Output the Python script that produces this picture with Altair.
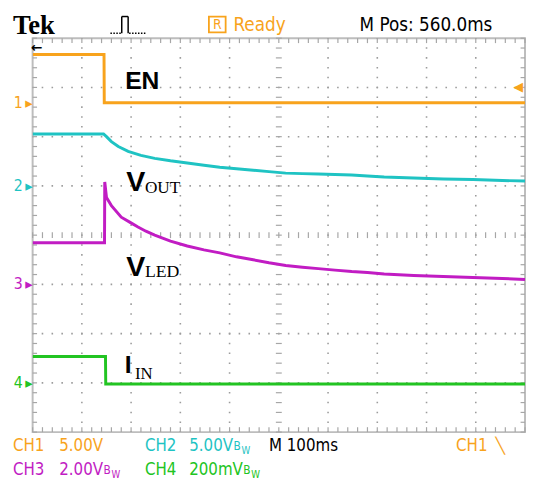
import altair as alt
import pandas as pd

# ---------------- waveform samples ----------------
# time in ms from the left edge of the graticule (100 ms/div, 10 div)
ch1_t = [0, 145, 145.5, 1000]
ch1_v = [4.9, 4.9, 0.0, 0.0]                      # volts, 5 V/div

ch2_t = [0, 144, 150, 160, 174, 194, 220, 248, 280, 314, 348, 380, 414, 448,
         480, 514, 548, 580, 614, 648, 680, 714, 774, 834, 894, 954, 1000]
ch2_v = [5.27, 5.27, 5.0, 4.5, 4.0, 3.5, 3.1, 2.8, 2.55, 2.33, 2.1, 1.9, 1.75,
         1.6, 1.45, 1.3, 1.25, 1.2, 1.15, 1.1, 1.0, 0.9, 0.8, 0.7, 0.65, 0.55, 0.5]

ch3_t = [0, 146, 146.5, 150, 160, 180, 198, 214, 230, 248, 280, 314, 348, 380,
         414, 448, 480, 514, 548, 580, 614, 648, 680, 714, 774, 834, 894, 954, 1000]
ch3_v = [1.69, 1.69, 4.16, 3.53, 3.2, 2.73, 2.52, 2.33, 2.16, 2.0, 1.76, 1.56,
         1.4, 1.28, 1.12, 1.0, 0.88, 0.77, 0.70, 0.64, 0.58, 0.52, 0.48, 0.42,
         0.36, 0.32, 0.28, 0.24, 0.20]

ch4_t = [0, 148, 148.5, 1000]
ch4_v = [107, 107, -5, -5]                        # mV, 200 mV/div

chan_names = ["CH1", "CH2", "CH3", "CH4"]
chan_colors = ["#F8A31C", "#1FC3C3", "#C11CC3", "#22C422"]
chan_per_div = [5.0, 5.0, 2.0, 200.0]
chan_ground = [2.69, 1.0, -1.0, -3.0]             # ground markers, div from centre

rows = []
for name, ts, vs, per, gnd in zip(chan_names, [ch1_t, ch2_t, ch3_t, ch4_t],
                                   [ch1_v, ch2_v, ch3_v, ch4_v],
                                   chan_per_div, chan_ground):
    for i, (t, v) in enumerate(zip(ts, vs)):
        rows.append({"ch": name, "i": i, "t": t, "div": v / per + gnd})
df = pd.DataFrame(rows)

# ---------------- graticule ----------------
major_t = [100, 200, 300, 400, 600, 700, 800, 900]
major_y = [-3, -2, -1, 1, 2, 3]
minor_t = [20 * k for k in range(51)]
minor_y = [round(-4 + 0.2 * k, 2) for k in range(41)]

vt = pd.DataFrame([{"t": t, "y1": a, "y2": b} for t in minor_t
                   for a, b in [(4, 3.9), (-4, -3.9), (-0.06, 0.06)]])
ht = pd.DataFrame([{"y": y, "t1": a, "t2": b} for y in minor_y
                   for a, b in [(0, 9), (991, 1000), (494, 506)]])

xs = alt.Scale(domain=[0, 1000], nice=False, zero=False)
ys = alt.Scale(domain=[-4, 4], nice=False, zero=False)

GRID = "#9C9C9C"
TICK = "#A6A6A6"
SANS = "Liberation Sans Narrow, DejaVu Sans Condensed, Arial Narrow, sans-serif"
BOLD = "Liberation Sans, Arial, sans-serif"
SERIF = "Liberation Serif, Times New Roman, serif"

grid_v = alt.Chart(pd.DataFrame({"t": major_t})).mark_rule(
    strokeDash=[1.6, 8.4], strokeDashOffset=0.8, strokeWidth=1.6, color=GRID
).encode(x=alt.X("t:Q", scale=xs, axis=None))

grid_h = alt.Chart(pd.DataFrame({"y": major_y})).mark_rule(
    strokeDash=[1.6, 8.4], strokeDashOffset=0.8, strokeWidth=1.6, color=GRID
).encode(y=alt.Y("y:Q", scale=ys, axis=None))

ticks_v = alt.Chart(vt).mark_rule(strokeWidth=1.2, color=TICK).encode(
    x=alt.X("t:Q", scale=xs, axis=None),
    y=alt.Y("y1:Q", scale=ys, axis=None), y2="y2:Q")

ticks_h = alt.Chart(ht).mark_rule(strokeWidth=1.2, color=TICK).encode(
    y=alt.Y("y:Q", scale=ys, axis=None),
    x=alt.X("t1:Q", scale=xs, axis=None), x2="t2:Q")

lines = alt.Chart(df).mark_line(strokeWidth=3, clip=True).encode(
    x=alt.X("t:Q", scale=xs, axis=None),
    y=alt.Y("div:Q", scale=ys, axis=None),
    color=alt.Color("ch:N", scale=alt.Scale(domain=chan_names, range=chan_colors),
                    legend=None),
    order="i:Q")

one = pd.DataFrame({"k": [0]})


def note(text, x, y, size, color="black", font=SANS, weight="normal",
         align="left", baseline="alphabetic"):
    return alt.Chart(one).mark_text(
        text=text, fontSize=size, color=color, font=font, fontWeight=weight,
        align=align, baseline=baseline).encode(x=alt.value(x), y=alt.value(y))


def seg(x, x2, y, y2, dash=None, width=1.5, color="black"):
    kw = dict(strokeWidth=width, color=color)
    if dash:
        kw["strokeDash"] = dash
    return alt.Chart(one).mark_rule(**kw).encode(
        x=alt.value(x), x2=alt.value(x2), y=alt.value(y), y2=alt.value(y2))


O, C, M, G = chan_colors
texts = [
    # header
    note("Tek", -20, -4, 27, font=SERIF, weight="bold"),
    seg(79, 90, -5, -5, dash=[1.5, 1.5]),
    seg(90.5, 90.5, -5, -22),
    seg(90.5, 97, -22, -22),
    seg(97, 97, -22, -5),
    seg(98, 115, -5, -5, dash=[1.5, 1.5]),
    alt.Chart(one).mark_rect(filled=False, stroke=O, strokeWidth=1.8).encode(
        x=alt.value(179), x2=alt.value(196), y=alt.value(-22), y2=alt.value(-6)),
    note("R", 187.5, -9, 14, O, align="center"),
    note("Ready", 204, -7, 19, O),
    note("M Pos: 560.0ms", 332, -7, 19),
    # trigger markers
    note("←", -2, 10, 14, font="DejaVu Sans", weight="bold", baseline="middle"),
    note("◀", 488, 50, 13, O, font="DejaVu Sans", baseline="middle"),
    # channel ground markers
    note("1", -10, 66, 16, O, align="right", baseline="middle"),
    note("▸", 0, 66, 15, O, font="DejaVu Sans", align="right", baseline="middle"),
    note("2", -10, 150, 16, C, align="right", baseline="middle"),
    note("▸", 0, 150, 15, C, font="DejaVu Sans", align="right", baseline="middle"),
    note("3", -10, 250, 16, M, align="right", baseline="middle"),
    note("▸", 0, 250, 15, M, font="DejaVu Sans", align="right", baseline="middle"),
    note("4", -10, 350, 16, G, align="right", baseline="middle"),
    note("▸", 0, 350, 15, G, font="DejaVu Sans", align="right", baseline="middle"),
    # trace labels
    note("EN", 94, 51.7, 25, font=BOLD, weight="bold"),
    note("V", 95, 155, 29, font=BOLD, weight="bold"),
    note("OUT", 114, 157.3, 17.5, font=SERIF),
    note("V", 95, 241.7, 29, font=BOLD, weight="bold"),
    note("LED", 114, 242.7, 18, font=SERIF),
    note("I", 93.5, 340, 25, font=BOLD, weight="bold"),
    note("IN", 104, 345.7, 17, font=SERIF),
    # footer row 1
    note("CH1", -20, 419, 17, O),
    note("5.00V", 27, 419, 17, O),
    note("CH2", 114, 419, 17, C),
    note("5.00V", 159, 419, 17, C),
    note("B", 204, 418, 12, C),
    note("W", 212, 422, 10, C),
    note("M 100ms", 240, 419, 17),
    note("CH1", 430, 419, 17, O),
    note("╲", 470, 419, 16, O, font="DejaVu Sans"),
    # footer row 2
    note("CH3", -20, 444, 17, M),
    note("2.00V", 27, 444, 17, M),
    note("B", 72, 443, 12, M),
    note("W", 80, 447, 10, M),
    note("CH4", 114, 444, 17, G),
    note("200mV", 159, 444, 17, G),
    note("B", 214, 443, 12, G),
    note("W", 222, 447, 10, G),
]

chart = alt.layer(grid_v, grid_h, ticks_v, ticks_h, lines, *texts).properties(
    width=500, height=400,
    autosize=alt.AutoSizeParams(type="none"),
    padding={"left": 25, "top": 27, "right": 1, "bottom": 47},
    background="white",
).configure_view(stroke="#BDBDBD", strokeWidth=2)

chart.save("out.html", embed_options={"renderer": "svg", "actions": False})
